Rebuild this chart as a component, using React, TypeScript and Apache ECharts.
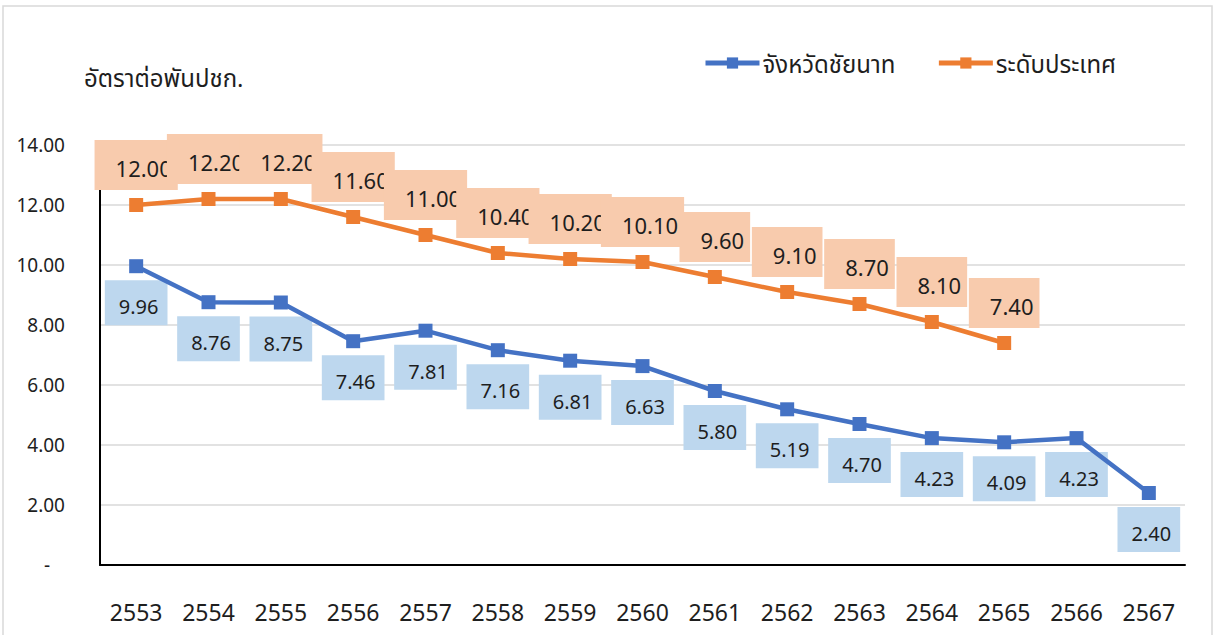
import React, { useEffect, useRef } from "react";
import * as echarts from "echarts";

const years = ["2553", "2554", "2555", "2556", "2557", "2558", "2559", "2560", "2561", "2562", "2563", "2564", "2565", "2566", "2567"];
const chainatValues = [9.96, 8.76, 8.75, 7.46, 7.81, 7.16, 6.81, 6.63, 5.8, 5.19, 4.7, 4.23, 4.09, 4.23, 2.4];
const nationalValues: (number | null)[] = [12.0, 12.2, 12.2, 11.6, 11.0, 10.4, 10.2, 10.1, 9.6, 9.1, 8.7, 8.1, 7.4, null, null];
const seriesNames = ["จังหวัดชัยนาท", "ระดับประเทศ"];
const unitTitle = "อัตราต่อพันปชก.";

const FONT = "'Noto Sans', 'Noto Sans Thai', 'DejaVu Sans', sans-serif";
const BLUE = "#4472C4";
const ORANGE = "#ED7D31";
const TXT = "#1e1e1e";

export default function App() {
  const ref = useRef<HTMLDivElement>(null);
  useEffect(() => {
    if (!ref.current) return;
    const chart = echarts.init(ref.current, undefined, { renderer: "svg" });
    const fmt = (p: any) => {
      const v = Array.isArray(p.value) ? p.value[1] : p.value;
      return v == null ? "" : Number(v).toFixed(2);
    };
    chart.setOption({
      animation: false,
      backgroundColor: "#ffffff",
      textStyle: { fontFamily: FONT },
      title: {
        text: unitTitle,
        left: 79,
        top: 60,
        textStyle: { fontFamily: FONT, fontSize: 24, fontWeight: "normal", color: TXT },
      },
      graphic: [
        {
          type: "rect",
          shape: { x: 3, y: 6, width: 1209, height: 640 },
          style: { fill: "none", stroke: "#d9d9d9", lineWidth: 1.5 },
          silent: true,
        },
      ],
      legend: {
        data: seriesNames,
        left: 698,
        top: 46,
        itemWidth: 54,
        itemHeight: 14,
        itemGap: 41,
        lineStyle: { width: 5 },
        textStyle: { fontFamily: FONT, fontSize: 24, color: TXT, padding: [0, 0, 0, -2] },
      },
      grid: { left: 100, right: 29, top: 145, bottom: 70, containLabel: false },
      xAxis: {
        type: "category",
        data: years,
        boundaryGap: true,
        axisLine: { show: true, lineStyle: { color: "#000", width: 2 } },
        axisTick: { show: false },
        axisLabel: { fontFamily: FONT, fontSize: 23, color: TXT, margin: 35 },
        splitLine: { show: false },
      },
      yAxis: {
        type: "value",
        min: 0,
        max: 14,
        interval: 2,
        axisLine: { show: true, lineStyle: { color: "#000", width: 2 } },
        axisTick: { show: false },
        axisLabel: {
          fontFamily: FONT,
          fontSize: 19,
          color: TXT,
          margin: 35,
          formatter: (v: number) => (v === 0 ? "-   " : v.toFixed(2)),
        },
        splitLine: { show: true, lineStyle: { color: "#d9d9d9", width: 1.5 } },
      },
      series: [
        {
          name: "lbl-chainat",
          type: "line",
          data: chainatValues,
          z: 1,
          symbol: "rect",
          symbolSize: 14,
          lineStyle: { width: 0, opacity: 0 },
          itemStyle: { color: "transparent", borderWidth: 0 },
          label: {
            show: true,
            position: "bottom",
            distance: 7,
            formatter: fmt,
            fontFamily: FONT,
            fontSize: 20,
            lineHeight: 21,
            color: TXT,
            backgroundColor: "#BDD7EE",
            padding: [16, 9, 8, 14],
          },
          emphasis: { disabled: true },
          silent: true,
        },
        {
          name: "lbl-national",
          type: "line",
          data: nationalValues,
          z: 1,
          symbol: "rect",
          symbolSize: 14,
          lineStyle: { width: 0, opacity: 0 },
          itemStyle: { color: "transparent", borderWidth: 0 },
          label: {
            show: true,
            position: "top",
            distance: 8,
            formatter: fmt,
            fontFamily: FONT,
            fontSize: 22,
            lineHeight: 24,
            color: TXT,
            backgroundColor: "#F8CBAD",
            padding: [16, 6, 10, 21],
          },
          emphasis: { disabled: true },
          silent: true,
        },
        {
          name: seriesNames[0],
          type: "line",
          data: chainatValues,
          z: 3,
          symbol: "rect",
          symbolSize: 14,
          lineStyle: { color: BLUE, width: 4.5 },
          itemStyle: { color: BLUE },
          label: { show: false },
        },
        {
          name: seriesNames[1],
          type: "line",
          data: nationalValues,
          z: 3,
          symbol: "rect",
          symbolSize: 14,
          lineStyle: { color: ORANGE, width: 4.5 },
          itemStyle: { color: ORANGE },
          label: { show: false },
        },
      ],
    });
    return () => chart.dispose();
  }, []);
  return (
    <div
      ref={ref}
      style={{ position: "absolute", left: 0, top: 0, width: 1214, height: 635 }}
    />
  );
}
